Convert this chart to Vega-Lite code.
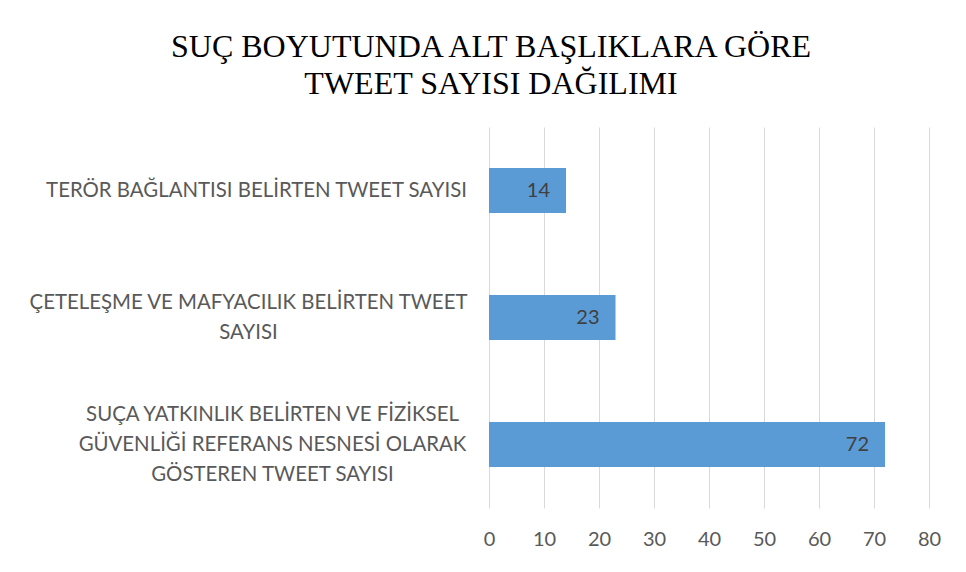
{
  "$schema": "https://vega.github.io/schema/vega-lite/v6.json",
  "width": 440,
  "height": 381,
  "autosize": {"type": "none"},
  "padding": {"left": 489, "top": 127, "right": 37, "bottom": 64},
  "background": "white",
  "title": {
    "text": ["SUÇ BOYUTUNDA ALT BAŞLIKLARA GÖRE", "TWEET SAYISI DAĞILIMI"],
    "font": "Liberation Serif",
    "fontSize": 32,
    "fontWeight": "normal",
    "color": "#000000",
    "lineHeight": 37,
    "anchor": "middle",
    "frame": "group",
    "dx": -218,
    "offset": 26
  },
  "data": {
    "values": [
      {"label": "TERÖR BAĞLANTISI BELİRTEN TWEET SAYISI", "value": 14, "order": 1},
      {"label": "ÇETELEŞME VE MAFYACILIK BELİRTEN TWEET|SAYISI", "value": 23, "order": 2},
      {"label": "SUÇA YATKINLIK BELİRTEN VE FİZİKSEL|GÜVENLİĞİ REFERANS NESNESİ OLARAK|GÖSTEREN TWEET SAYISI", "value": 72, "order": 3}
    ]
  },
  "encoding": {
    "y": {
      "field": "label",
      "type": "nominal",
      "sort": {"field": "order", "order": "ascending"},
      "scale": {"paddingInner": 0.646, "paddingOuter": 0.323},
      "axis": {
        "title": null,
        "domain": false,
        "ticks": false,
        "tickSize": 0,
        "grid": false,
        "labelExpr": "split(datum.label, '|')",
        "labelFont": "Lato",
        "labelFontSize": 20.4,
        "labelColor": "#595959",
        "labelLineHeight": 30,
        "labelLimit": 600,
        "labelAlign": "center",
        "labelBaseline": "middle",
        "labelOffset": {
          "condition": [
            {"test": "indexof(datum.value, 'TERÖR') == 0", "value": 0},
            {"test": "indexof(datum.value, 'ÇETELEŞME') == 0", "value": -15}
          ],
          "value": -30
        },
        "labelPadding": {
          "condition": [
            {"test": "indexof(datum.value, 'TERÖR') == 0", "value": 233},
            {"test": "indexof(datum.value, 'ÇETELEŞME') == 0", "value": 241}
          ],
          "value": 217
        }
      }
    }
  },
  "layer": [
    {
      "mark": {"type": "bar", "color": "#5b9bd5"},
      "encoding": {
        "x": {
          "field": "value",
          "type": "quantitative",
          "scale": {"domain": [0, 80], "nice": false},
          "axis": {
            "title": null,
            "domain": false,
            "ticks": false,
            "values": [0, 10, 20, 30, 40, 50, 60, 70, 80],
            "grid": true,
            "gridColor": "#d9d9d9",
            "gridWidth": 1,
            "labelOverlap": false,
            "labelFlush": false,
            "labelFont": "Lato",
            "labelFontSize": 20,
            "labelColor": "#595959",
            "labelPadding": 21
          }
        }
      }
    },
    {
      "mark": {"type": "text", "align": "right", "baseline": "middle", "dx": -16, "font": "Lato", "fontSize": 20, "color": "#404040"},
      "encoding": {
        "x": {"field": "value", "type": "quantitative"},
        "text": {"field": "value", "type": "quantitative"}
      }
    }
  ],
  "config": {"view": {"stroke": null}}
}
